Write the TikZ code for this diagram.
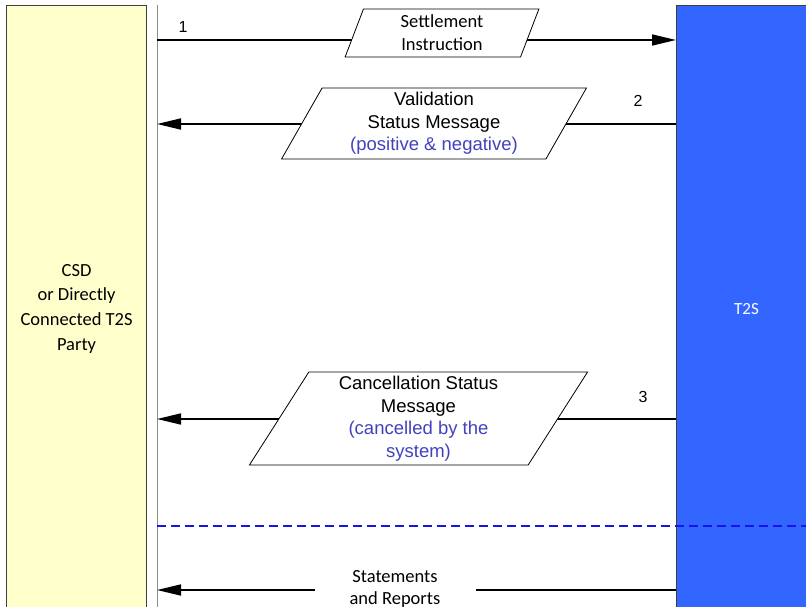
\documentclass[tikz,border=0pt]{standalone}
\usepackage{fontspec}
\setmainfont{Liberation Sans}
\newfontfamily\calibri{Carlito}
\usetikzlibrary{arrows.meta, positioning, shapes.geometric}

\definecolor{csdYellow}{RGB}{255,255,204}
\definecolor{tsBlue}{RGB}{51,102,255}
\definecolor{noteBlue}{RGB}{66,66,190}
\definecolor{sepBlue}{RGB}{20,20,235}

\begin{document}
\begin{tikzpicture}[
    x=1pt, y=-1pt,
    >={Triangle[length=24pt, width=11pt]},
    party/.style={draw=black!75, line width=1.1pt, minimum width=140pt,
                  minimum height=606pt, anchor=north west, align=center,
                  inner sep=0pt},
    lifeline/.style={draw=black!45, line width=0.9pt},
    msg/.style={line width=1.7pt, ->},
    msgbox/.style={trapezium, trapezium stretches=true, draw, fill=white,
                   line width=0.8pt, align=center, inner sep=0pt,
                   font=\fontsize{18.5}{22.5}\selectfont},
    note/.style={text=noteBlue},
    num/.style={font=\fontsize{16}{19}\selectfont},
]

% ============================================================
% FRAME
% ============================================================
\clip (0,0) rectangle (806,607);

% ============================================================
% PARTIES
% ============================================================
\node[party, fill=csdYellow, font=\calibri\fontsize{18.5}{24.7}\selectfont]
    (csd) at (6,5) {CSD\\or Directly\\Connected T2S\\Party};
\node[party, fill=tsBlue, minimum width=140pt, text=white,
      font=\calibri\fontsize{17}{20}\selectfont]
    (t2s) at (676,5) {T2S};

% lifeline of the CSD side
\coordinate (lltop) at (157,5);
\coordinate (llbot) at (157,611);
\draw[lifeline] (lltop) -- (llbot);

% ============================================================
% MESSAGES (lines first, boxes on top)
% ============================================================
\coordinate (a1) at (157,40);
\coordinate (a2) at (157,124);
\coordinate (a3) at (157,419);
\coordinate (a4) at (157,590);

\draw[msg] (a1) -- (a1 -| t2s.west);
\draw[msg] (a2 -| t2s.west) -- (a2);
\draw[msg] (a3 -| t2s.west) -- (a3);
\draw[msg] (a4 -| t2s.west) -- (a4);

\node[msgbox, trapezium left angle=75, trapezium right angle=105,
      minimum width=194pt, minimum height=48pt,
      font=\calibri\fontsize{18.5}{23}\selectfont]
    (m1) at (442,33) {Settlement\\Instruction};

\node[msgbox, trapezium left angle=64, trapezium right angle=116,
      minimum width=306pt, minimum height=71pt]
    (m2) at (434,123.5) {Validation\\Status Message\\
      \textcolor{noteBlue}{(positive \& negative)}};

\node[msgbox, trapezium left angle=63, trapezium right angle=117,
      minimum width=339pt, minimum height=93pt]
    (m3) at (418.5,418.5) {Cancellation Status\\Message\\
      \textcolor{noteBlue}{(cancelled by the}\\
      \textcolor{noteBlue}{system)}};

\node[fill=white, minimum width=161pt, inner sep=0pt, align=center,
      font=\calibri\fontsize{18.5}{22}\selectfont]
    (m4) at (395,589) {Statements\\and Reports};

% step numbers
\node[num] (n1) at (183,27) {1};
\node[num] (n2) at (638,101) {2};
\node[num] (n3) at (643,397) {3};

% ============================================================
% SEPARATOR
% ============================================================
\coordinate (sepL) at (157,526);
\coordinate (sepR) at (806,526);
\draw[sepBlue, line width=1.6pt, dash pattern=on 9pt off 5pt] (sepL) -- (sepR);

\end{tikzpicture}
\end{document}
